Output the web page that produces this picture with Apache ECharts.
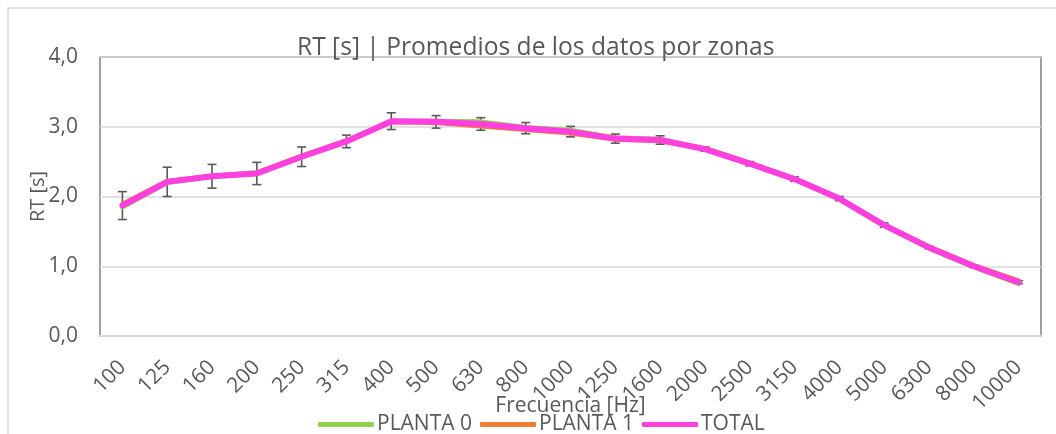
<!DOCTYPE html>
<html>
<head>
<meta charset="utf-8">
<script src="https://cdn.jsdelivr.net/npm/echarts@6/dist/echarts.min.js"></script>
<style>html,body{margin:0;padding:0;background:#fff;}#c{width:1056px;height:434px;}</style>
</head>
<body>
<div id="c"></div>
<script>
var categories = ['100','125','160','200','250','315','400','500','630','800','1000','1250','1600','2000','2500','3150','4000','5000','6300','8000','10000'];
var planta0 = [1.85, 2.20, 2.29, 2.33, 2.57, 2.79, 3.08, 3.08, 3.07, 2.99, 2.95, 2.84, 2.82, 2.68, 2.47, 2.25, 1.96, 1.58, 1.26, 0.99, 0.75];
var planta1 = [1.89, 2.22, 2.29, 2.34, 2.58, 2.80, 3.07, 3.06, 3.01, 2.96, 2.91, 2.82, 2.80, 2.69, 2.48, 2.25, 1.97, 1.59, 1.28, 1.01, 0.79];
var total   = [1.87, 2.21, 2.29, 2.33, 2.57, 2.79, 3.08, 3.07, 3.04, 2.98, 2.93, 2.83, 2.81, 2.68, 2.47, 2.25, 1.97, 1.59, 1.27, 1.00, 0.77];
var errTotal = [0.20, 0.21, 0.17, 0.16, 0.14, 0.09, 0.12, 0.09, 0.09, 0.08, 0.075, 0.065, 0.06, 0.03, 0.03, 0.03, 0.03, 0.03, 0.02, 0.02, 0.02];
var yTicks = [0, 1, 2, 3, 4];

var FONT = 'Open Sans';
var TXT = '#595959';

var errData = total.map(function (v, i) { return [i, v - errTotal[i], v + errTotal[i]]; });

var chart = echarts.init(document.getElementById('c'), null, {renderer: 'canvas'});
chart.setOption({
  animation: false,
  textStyle: {fontFamily: FONT, color: TXT},
  title: {
    text: 'RT [s] | Promedios de los datos por zonas',
    left: 292, top: 30,
    textStyle: {fontFamily: FONT, fontSize: 24.6, fontWeight: 'normal', color: TXT}
  },
  graphic: [{
    type: 'rect', z: -10, silent: true,
    shape: {x: 8, y: 8, width: 1070, height: 460},
    style: {fill: 'none', stroke: '#d9d9d9', lineWidth: 1.5}
  }],
  legend: {
    left: 313, top: 409,
    icon: 'roundRect', itemWidth: 56, itemHeight: 5, itemGap: 8,
    textStyle: {fontFamily: FONT, fontSize: 21, color: TXT, padding: [0, 0, 0, -2]},
    data: ['PLANTA 0', 'PLANTA 1', 'TOTAL']
  },
  grid: {left: 100, right: 15, top: 57, bottom: 98, outerBoundsMode: 'none', containLabel: false,
    show: true, borderColor: '#808080', borderWidth: 1.5, backgroundColor: 'transparent'},
  xAxis: {
    type: 'category', data: categories, boundaryGap: true,
    name: 'Frecuencia [Hz]', nameLocation: 'middle', nameGap: 60, nameMoveOverlap: false,
    nameTextStyle: {fontFamily: FONT, fontSize: 21, color: TXT},
    axisLine: {show: true, lineStyle: {color: '#d9d9d9', width: 2}},
    axisTick: {show: false},
    axisLabel: {rotate: 45, fontSize: 21, color: TXT, fontFamily: FONT, margin: 28, interval: 0}
  },
  yAxis: {
    type: 'value', min: yTicks[0], max: yTicks[yTicks.length - 1], interval: 1,
    name: 'RT [s]', nameLocation: 'middle', nameGap: 52, nameMoveOverlap: false,
    nameTextStyle: {fontFamily: FONT, fontSize: 20, color: TXT},
    axisLine: {show: false}, axisTick: {show: false},
    axisLabel: {fontSize: 21, color: TXT, fontFamily: FONT, margin: 22,
      formatter: function (v) { return v.toFixed(1).replace('.', ','); }},
    splitLine: {lineStyle: {color: '#d9d9d9', width: 1.5}}
  },
  series: [
    {
      name: 'errors', type: 'custom', z: 1, silent: true,
      data: errData,
      encode: {x: 0, y: [1, 2]},
      renderItem: function (params, api) {
        var lo = api.coord([api.value(0), api.value(1)]);
        var hi = api.coord([api.value(0), api.value(2)]);
        var hw = 4.5;
        var st = {stroke: '#595959', lineWidth: 1.6};
        return {type: 'group', children: [
          {type: 'line', shape: {x1: lo[0], y1: lo[1], x2: hi[0], y2: hi[1]}, style: st},
          {type: 'line', shape: {x1: lo[0] - hw, y1: lo[1], x2: lo[0] + hw, y2: lo[1]}, style: st},
          {type: 'line', shape: {x1: hi[0] - hw, y1: hi[1], x2: hi[0] + hw, y2: hi[1]}, style: st}
        ]};
      }
    },
    {name: 'PLANTA 0', type: 'line', z: 2, data: planta0, symbol: 'none',
      itemStyle: {color: '#92D050'}, lineStyle: {color: '#92D050', width: 5, cap: 'round', join: 'round'}},
    {name: 'PLANTA 1', type: 'line', z: 3, data: planta1, symbol: 'none',
      itemStyle: {color: '#ED7D31'}, lineStyle: {color: '#ED7D31', width: 5, cap: 'round', join: 'round'}},
    {name: 'TOTAL', type: 'line', z: 4, data: total, symbol: 'none',
      itemStyle: {color: '#FF3FE0'}, lineStyle: {color: '#FF3FE0', width: 6, cap: 'round', join: 'round'}}
  ]
});
</script>
</body>
</html>
